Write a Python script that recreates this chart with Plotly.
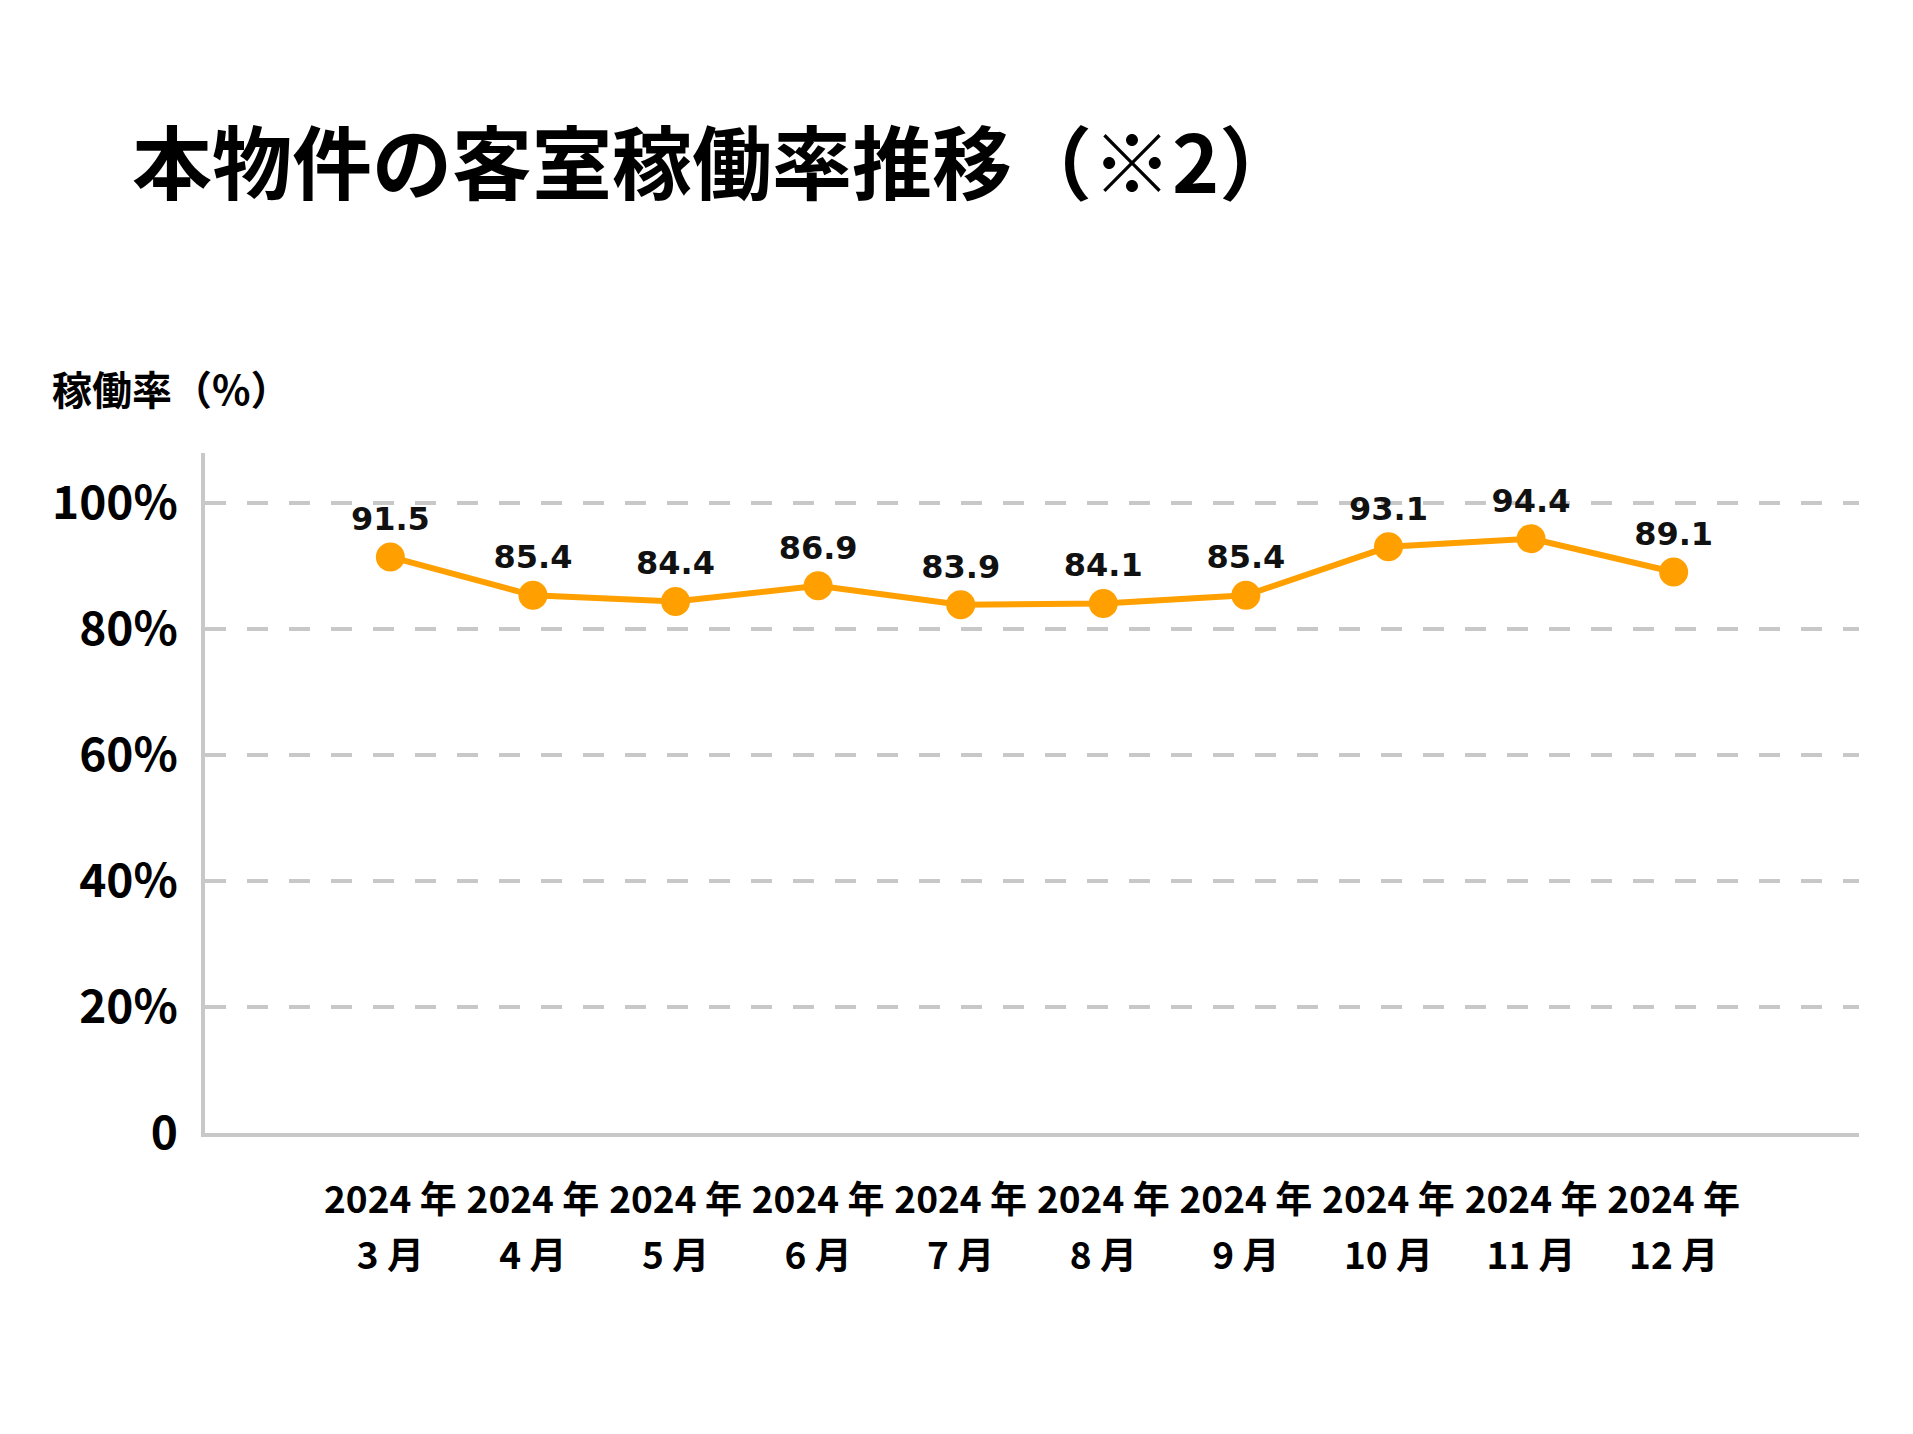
import plotly.graph_objects as go

months = ["3 月", "4 月", "5 月", "6 月", "7 月", "8 月", "9 月", "10 月", "11 月", "12 月"]
year_label = "2024 年"
occupancy = [91.5, 85.4, 84.4, 86.9, 83.9, 84.1, 85.4, 93.1, 94.4, 89.1]
y_ticks = [0, 20, 40, 60, 80, 100]
y_ticktext = ["0", "20%", "40%", "60%", "80%", "100%"]

title_text = "本物件の客室稼働率推移（※2）"
y_title = "稼働率（%）"

# page body has an 8px margin; size the figure so the page fits the window
OFF = 8
W, H = 1913 - 2 * OFF, 1434 - 2 * OFF
L, R, T, B = 205 - OFF, 1913 - 1859 - OFF, 453 - OFF, 1434 - 1133 - OFF

cjk = "Noto Sans CJK JP"
orange = "#FFA000"
grid = "#C8C8C8"

x_idx = list(range(len(months)))
x_range = [-1.3, len(months) - 1 + 1.3]

fig = go.Figure()
fig.add_trace(go.Scatter(
    x=x_idx, y=occupancy,
    mode="lines+markers+text",
    line=dict(color=orange, width=6),
    marker=dict(color=orange, size=29),
    text=[f"{v:.1f}" for v in occupancy],
    textposition="top center",
    textfont=dict(family="DejaVu Sans", size=32, color="#111111", weight="bold"),
    cliponaxis=False,
    hoverinfo="skip",
))
# helper trace so the month-label axis is drawn
fig.add_trace(go.Scatter(
    x=x_idx, y=[None] * len(months), xaxis="x2", mode="markers",
    hoverinfo="skip", showlegend=False,
))

fig.update_layout(
    width=W, height=H,
    margin=dict(l=L, r=R, t=T, b=B, autoexpand=False),
    paper_bgcolor="white", plot_bgcolor="white",
    showlegend=False,
    title=dict(
        text=title_text,
        x=(132 - OFF) / W, xanchor="left", xref="container",
        y=1 - (165 - OFF) / H, yanchor="middle", yref="container",
        font=dict(family=cjk, size=80, color="black", weight="bold"),
    ),
    annotations=[dict(
        text=y_title, xref="paper", yref="paper",
        x=(50 - OFF - L) / (W - L - R), xanchor="left",
        y=(H - B - (388 - OFF)) / (H - T - B), yanchor="middle",
        showarrow=False,
        font=dict(family=cjk, size=40, color="black", weight="bold"),
    )],
    xaxis=dict(
        range=x_range,
        tickmode="array", tickvals=x_idx, ticktext=[year_label] * len(months),
        tickangle=0,
        showgrid=False, zeroline=False,
        showline=True, linecolor=grid, linewidth=4,
        ticks="", ticklabelstandoff=32,
        tickfont=dict(family=cjk, size=37, color="black", weight="bold"),
    ),
    xaxis2=dict(
        overlaying="x", anchor="y", side="bottom", matches="x",
        range=x_range,
        tickmode="array", tickvals=x_idx, ticktext=months,
        tickangle=0,
        showgrid=False, zeroline=False, showline=False,
        ticks="", ticklabelstandoff=98,
        tickfont=dict(family=cjk, size=37, color="black", weight="bold"),
    ),
    yaxis=dict(
        range=[0, 108],
        tickmode="array", tickvals=y_ticks, ticktext=y_ticktext,
        showgrid=True, gridcolor=grid, gridwidth=4, griddash="21px,21px",
        zeroline=False,
        showline=True, linecolor=grid, linewidth=4,
        ticks="", ticklabelstandoff=14,
        tickfont=dict(family=cjk, size=46, color="black", weight="bold"),
    ),
)

fig.write_html("out.html")
